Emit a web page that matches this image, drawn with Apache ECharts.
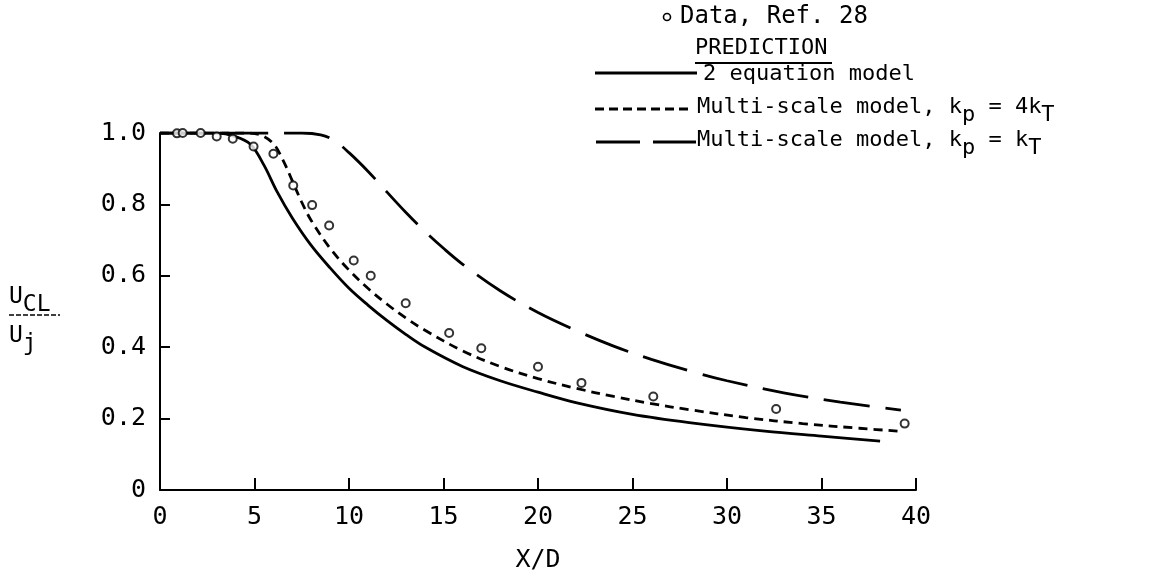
<!DOCTYPE html>
<html>
<head>
<meta charset="utf-8">
<script src="https://cdn.jsdelivr.net/npm/echarts@6/dist/echarts.min.js"></script>
<style>
  html, body { margin: 0; background: #fff; }
  #chart { width: 1164px; height: 577px; }
</style>
</head>
<body>
<div id="chart"></div>
<script>
// measured points, Ref. 28
const dataX = [0.9, 1.2, 2.15, 3.0, 3.85, 4.95, 6.0, 7.05, 8.05, 8.95, 10.25, 11.15, 13.0, 15.3, 17.0, 20.0, 22.3, 26.1, 32.6, 39.4];
const dataY = [0.999, 1.0, 1.0, 0.99, 0.984, 0.962, 0.942, 0.853, 0.798, 0.741, 0.643, 0.600, 0.523, 0.440, 0.397, 0.345, 0.300, 0.262, 0.227, 0.186];

// 2 equation model (solid)
const twoEqX = [0, 3, 4, 4.8, 5.5, 6.2, 7, 8, 9, 10, 11, 12, 13, 14, 16, 18, 20, 22, 25, 28, 32, 35, 38.1];
const twoEqY = [1.0, 1.0, 0.99, 0.968, 0.91, 0.835, 0.762, 0.685, 0.622, 0.565, 0.518, 0.475, 0.436, 0.401, 0.346, 0.306, 0.274, 0.245, 0.212, 0.189, 0.165, 0.151, 0.137];

// multi-scale model, kp = 4kT (short dash)
const ms4X = [0, 4.5, 5.3, 6.0, 6.5, 7, 7.5, 8, 9, 10, 11, 12, 13, 14, 16, 18, 20, 22, 24, 26, 28, 31, 34, 37, 39.3];
const ms4Y = [1.0, 1.0, 0.995, 0.97, 0.925, 0.866, 0.806, 0.755, 0.677, 0.616, 0.565, 0.521, 0.482, 0.448, 0.390, 0.346, 0.312, 0.285, 0.262, 0.242, 0.225, 0.203, 0.186, 0.173, 0.164];

// multi-scale model, kp = kT (long dash)
const ms1X = [0, 7.5, 8.5, 9.2, 10, 11, 12, 13, 14, 15, 16, 18, 20, 22, 24, 26, 28, 30, 33, 36, 39.2];
const ms1Y = [1.0, 1.0, 0.995, 0.98, 0.945, 0.893, 0.835, 0.778, 0.725, 0.677, 0.633, 0.558, 0.497, 0.447, 0.403, 0.366, 0.334, 0.306, 0.272, 0.246, 0.224];

const FONT = '"DejaVu Sans Mono", monospace';

function pairs(xs, ys) {
  return xs.map((x, i) => [x, ys[i]]);
}

function curve(name, xs, ys, dash) {
  return {
    name: name,
    type: 'line',
    data: pairs(xs, ys),
    showSymbol: false,
    smooth: 0.35,
    lineStyle: { color: '#000', width: 2.8, type: dash },
    z: 2,
  };
}

const sub = { fontFamily: FONT, fontSize: 22, color: '#000', padding: [16, 0, 0, 0] };
const legendText = { fontFamily: FONT, fontSize: 22, fill: '#000', verticalAlign: 'middle' };
const fracText = { fontFamily: FONT, fontSize: 23, fill: '#000', verticalAlign: 'middle' };
const fracSub = { fontFamily: FONT, fontSize: 23, color: '#000', padding: [16, 0, 0, 0] };

const chart = echarts.init(document.getElementById('chart'));

chart.setOption({
  backgroundColor: '#fff',
  animation: false,
  grid: { left: 160, right: 248, top: 133, bottom: 87, outerBoundsMode: 'none' },
  xAxis: {
    type: 'value',
    min: 0,
    max: 40,
    interval: 5,
    name: 'X/D',
    nameLocation: 'middle',
    nameGap: 58,
    nameTextStyle: { fontFamily: FONT, fontSize: 25, color: '#000' },
    axisLine: { lineStyle: { color: '#000', width: 2 } },
    axisTick: { inside: true, length: 12, lineStyle: { color: '#000', width: 2 } },
    axisLabel: { fontFamily: FONT, fontSize: 25, color: '#000', margin: 15 },
    splitLine: { show: false },
  },
  yAxis: {
    type: 'value',
    min: 0,
    max: 1.0,
    interval: 0.2,
    axisLine: { show: true, lineStyle: { color: '#000', width: 2 } },
    axisTick: { inside: true, length: 10, lineStyle: { color: '#000', width: 2 } },
    axisLabel: {
      fontFamily: FONT, fontSize: 25, color: '#000', margin: 14,
      formatter: (v) => (v === 0 ? '0' : v.toFixed(1)),
    },
    splitLine: { show: false },
  },
  series: [
    curve('2 equation model', twoEqX, twoEqY, 'solid'),
    curve('Multi-scale model, kp = 4kT', ms4X, ms4Y, [9, 6]),
    curve('Multi-scale model, kp = kT', ms1X, ms1Y, [46, 16]),
    {
      name: 'Data, Ref. 28',
      type: 'scatter',
      data: pairs(dataX, dataY),
      symbol: 'circle',
      symbolSize: 8,
      itemStyle: { color: '#fff', borderColor: '#000', borderWidth: 2 },
      z: 5,
    },
  ],
  graphic: [
    // legend
    { type: 'circle', shape: { cx: 667, cy: 17, r: 3.5 }, style: { fill: '#fff', stroke: '#000', lineWidth: 1.6 } },
    { type: 'text', x: 680, y: 17, style: Object.assign({ text: 'Data, Ref. 28' }, legendText, { fontSize: 24 }) },
    { type: 'text', x: 695, y: 48, style: Object.assign({ text: 'PREDICTION' }, legendText) },
    { type: 'line', shape: { x1: 695, y1: 63, x2: 832, y2: 63 }, style: { stroke: '#000', lineWidth: 2 } },

    { type: 'line', shape: { x1: 595, y1: 73, x2: 697, y2: 73 }, style: { stroke: '#000', lineWidth: 2.8 } },
    { type: 'text', x: 703, y: 74, style: Object.assign({ text: '2 equation model' }, legendText) },

    { type: 'line', shape: { x1: 595, y1: 109, x2: 692, y2: 109 }, style: { stroke: '#000', lineWidth: 2.8, lineDash: [9, 5] } },
    {
      type: 'text', x: 697, y: 107,
      style: Object.assign({ text: 'Multi-scale model, k{s|p} = 4k{s|T}', rich: { s: sub } }, legendText),
    },

    { type: 'line', shape: { x1: 596, y1: 142, x2: 640, y2: 142 }, style: { stroke: '#000', lineWidth: 2.8 } },
    { type: 'line', shape: { x1: 653, y1: 142, x2: 696, y2: 142 }, style: { stroke: '#000', lineWidth: 2.8 } },
    {
      type: 'text', x: 697, y: 140,
      style: Object.assign({ text: 'Multi-scale model, k{s|p} = k{s|T}', rich: { s: sub } }, legendText),
    },

    // y axis label: U_CL / U_j
    { type: 'text', x: 9, y: 297, style: Object.assign({ text: 'U{s|CL}', rich: { s: fracSub } }, fracText) },
    { type: 'line', shape: { x1: 9, y1: 315, x2: 60, y2: 315 }, style: { stroke: '#000', lineWidth: 1.5, lineDash: [5, 2] } },
    { type: 'text', x: 9, y: 336, style: Object.assign({ text: 'U{s|j}', rich: { s: fracSub } }, fracText) },
  ],
});
</script>
</body>
</html>
